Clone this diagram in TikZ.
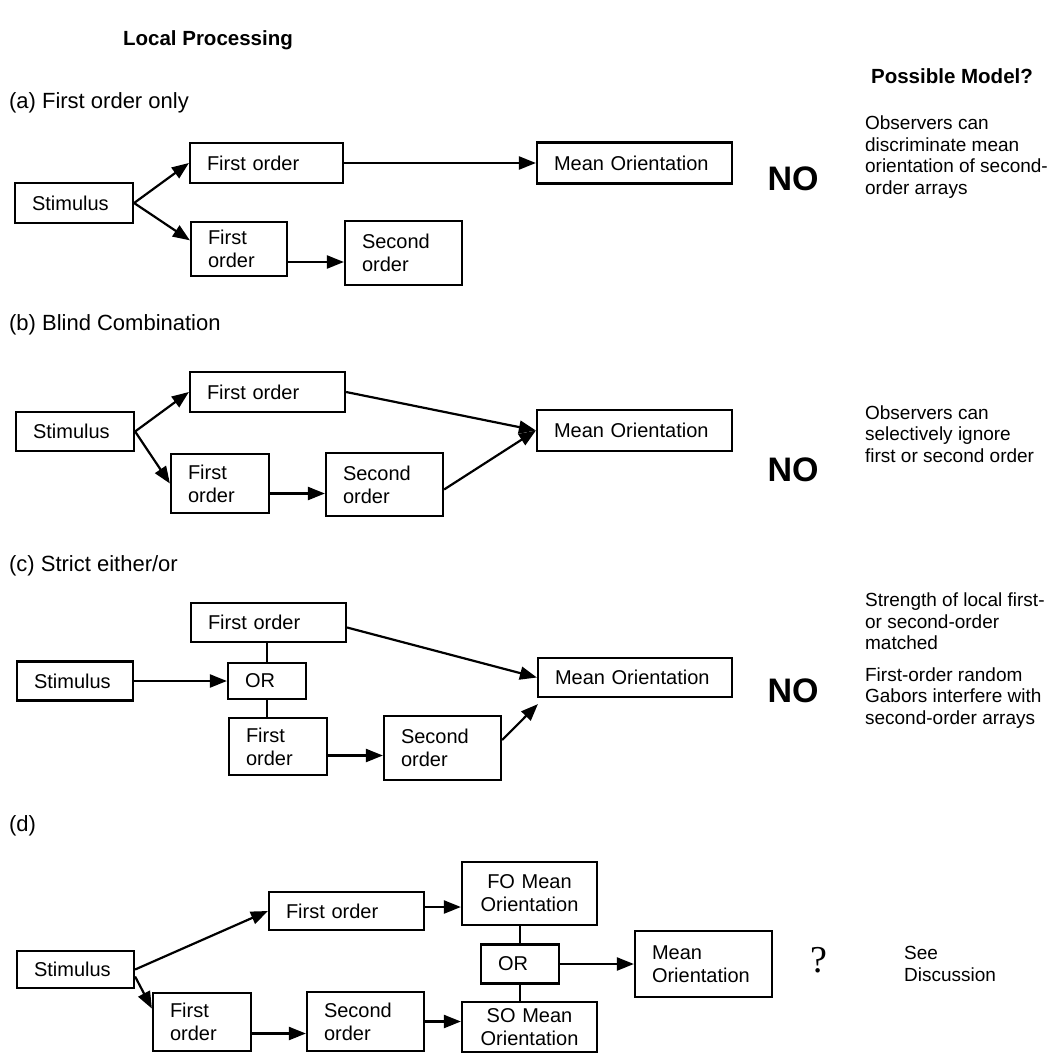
\documentclass[tikz,border=0pt]{standalone}
\usepackage{fontspec}
\setmainfont{Liberation Sans}
\newfontfamily\qfont{Liberation Serif}
\usetikzlibrary{arrows.meta, positioning, calc}

\begin{document}
\begin{tikzpicture}[x=1pt,y=-1pt,line width=2.2pt,>={Triangle[length=17pt,width=13pt]},
        box/.style={draw,line width=2.2pt,inner xsep=17pt,inner ysep=0pt,align=left,
            font=\fontsize{20}{23}\selectfont},
        cbox/.style={box,align=center},
        wh/.style 2 args={text width=#1,minimum height=#2},
        head/.style={font=\bfseries\fontsize{20.5}{24}\selectfont},
        part/.style={anchor=west,inner sep=0pt,font=\fontsize{22}{26}\selectfont},
        verdict/.style={font=\bfseries\fontsize{34}{36}\selectfont},
        remark/.style={anchor=west,align=left,inner sep=0pt,font=\fontsize{19}{21.5}\selectfont}]

    \fill[white] (0,0) rectangle (1050,1054);
    \useasboundingbox (0,0) rectangle (1050,1054);

    \node[head] (local) at (208,40) {Local Processing};
    \node[head] (model) at (952,76) {Possible Model?};

    % (a)
    \node[part] (lab_a) at (8,103) {(a) First order only};
    \node[box,wh={84pt}{40pt}]  (stim_a)   at (74,203)    {Stimulus};
    \node[box,wh={119pt}{40pt}] (first_a)  at (266.5,163) {First order};
    \node[box,wh={62pt}{54pt}]  (lower_a)  at (239,249)   {First\\order};
    \node[box,wh={83pt}{64pt}]  (second_a) at (403.5,253) {Second\\order};
    \node[box,wh={161pt}{41pt}] (mean_a)   at (634.5,163) {Mean Orientation};

    \draw[->] (stim_a.east) -- (first_a.west);
    \draw[->] (stim_a.east) -- (lower_a.170);
    \draw[->] (first_a.east) -- (mean_a.west);
    \draw[->] ($(lower_a.east)+(0,13)$) -- ($(second_a.west|-lower_a.east)+(0,13)$);

    \node[verdict] (no_a) at (793,179) {NO};
    \node[remark] (why_a) at (864,157) {Observers can\\discriminate mean\\orientation of second-\\order arrays};

    % (b)
    \node[part] (lab_b) at (8,325) {(b) Blind Combination};
    \node[box,wh={84pt}{39pt}]  (stim_b)   at (75,431.5)  {Stimulus};
    \node[box,wh={121pt}{40pt}] (first_b)  at (267.5,392) {First order};
    \node[box,wh={64pt}{59pt}]  (lower_b)  at (220,483.5) {First\\order};
    \node[box,wh={83pt}{63pt}]  (second_b) at (384.5,484.5) {Second\\order};
    \node[box,wh={161pt}{41pt}] (mean_b)   at (634.5,430.5) {Mean Orientation};

    \draw[->] (stim_b.east) -- (first_b.west);
    \draw[->] (stim_b.east) -- (lower_b.west);
    \draw[->] ($(lower_b.east)+(0,10)$) -- ($(second_b.west|-lower_b.east)+(0,10)$);
    \draw[->] (first_b.east) -- (mean_b.west);
    \draw[->] ($(second_b.east)+(0,5)$) -- (mean_b.west);

    \node[verdict] (no_b) at (793,470) {NO};
    \node[remark] (why_b) at (864,434) {Observers can\\selectively ignore\\first or second order};

    % (c)
    \node[part] (lab_c) at (8,566) {(c) Strict either/or};
    \node[box,wh={82pt}{39pt}]  (stim_c)   at (75,681)    {Stimulus};
    \node[box,wh={121pt}{39pt}] (first_c)  at (268.5,622.5) {First order};
    \node[box,wh={44pt}{36pt}]  (or_c)     at (267,681)   {OR};
    \node[box,wh={64pt}{57pt}]  (lower_c)  at (278,746.5) {First\\order};
    \node[box,wh={83pt}{64pt}]  (second_c) at (442.5,748) {Second\\order};
    \node[box,wh={160pt}{39pt}] (mean_c)   at (635,677.5) {Mean Orientation};

    \draw (or_c.north) -- (or_c.north|-first_c.south);
    \draw (or_c.south) -- (or_c.south|-lower_c.north);
    \draw[->] (stim_c.east) -- (or_c.west);
    \draw[->] ($(lower_c.east)+(0,9)$) -- ($(second_c.west|-lower_c.east)+(0,9)$);
    \draw[->] ($(first_c.east)+(0,5)$) -- (mean_c.west);
    \draw[->] ($(second_c.east)+(0,-8)$) -- ($(mean_c.south west)+(1,6)$);

    \node[verdict] (no_c) at (793,690.5) {NO};
    \node[remark] (why_c1) at (864,621.5) {Strength of local first-\\or second-order\\matched};
    \node[remark] (why_c2) at (864,698) {First-order random\\Gabors interfere with\\second-order arrays};

    % (d)
    \node[part] (lab_d) at (8,826) {(d)};
    \node[box,wh={83pt}{37pt}]   (stim_d)    at (75.5,969.5) {Stimulus};
    \node[box,wh={121pt}{38pt}]  (first_d)   at (346.5,911)  {First order};
    \node[box,wh={64pt}{58pt}]   (lower_d)   at (202,1022)   {First\\order};
    \node[box,wh={83pt}{59pt}]   (second_d)  at (365.5,1021.5) {Second\\order};
    \node[cbox,wh={101pt}{63pt}] (fomean_d)  at (529.5,893.5) {FO Mean\\Orientation};
    \node[box,wh={44pt}{39pt}]   (or_d)      at (520,964)    {OR};
    \node[cbox,wh={101pt}{50pt}] (somean_d)  at (529.5,1027) {SO Mean\\Orientation};
    \node[box,wh={103pt}{66pt}]  (mean_d)    at (703.5,964)  {Mean\\Orientation};

    \draw[->] (stim_d.east) -- (first_d.west);
    \draw[->] ($(stim_d.east)+(0,7)$) -- (lower_d.165);
    \draw[->] ($(lower_d.east)+(0,11.5)$) -- ($(second_d.west|-lower_d.east)+(0,11.5)$);
    \draw[->] ($(first_d.east)+(0,-4)$) -- ($(fomean_d.west|-first_d.east)+(0,-4)$);
    \draw[->] (second_d.east) -- (second_d.east-|somean_d.west);
    \draw (or_d.north) -- (or_d.north|-fomean_d.south);
    \draw (or_d.south) -- (or_d.south|-somean_d.north);
    \draw[->] (or_d.east) -- (mean_d.west);

    \node[font=\qfont\fontsize{38}{40}\selectfont] (query_d) at (819,960) {?};
    \node[remark] (see_d) at (903,964) {See\\Discussion};
\end{tikzpicture}
\end{document}
